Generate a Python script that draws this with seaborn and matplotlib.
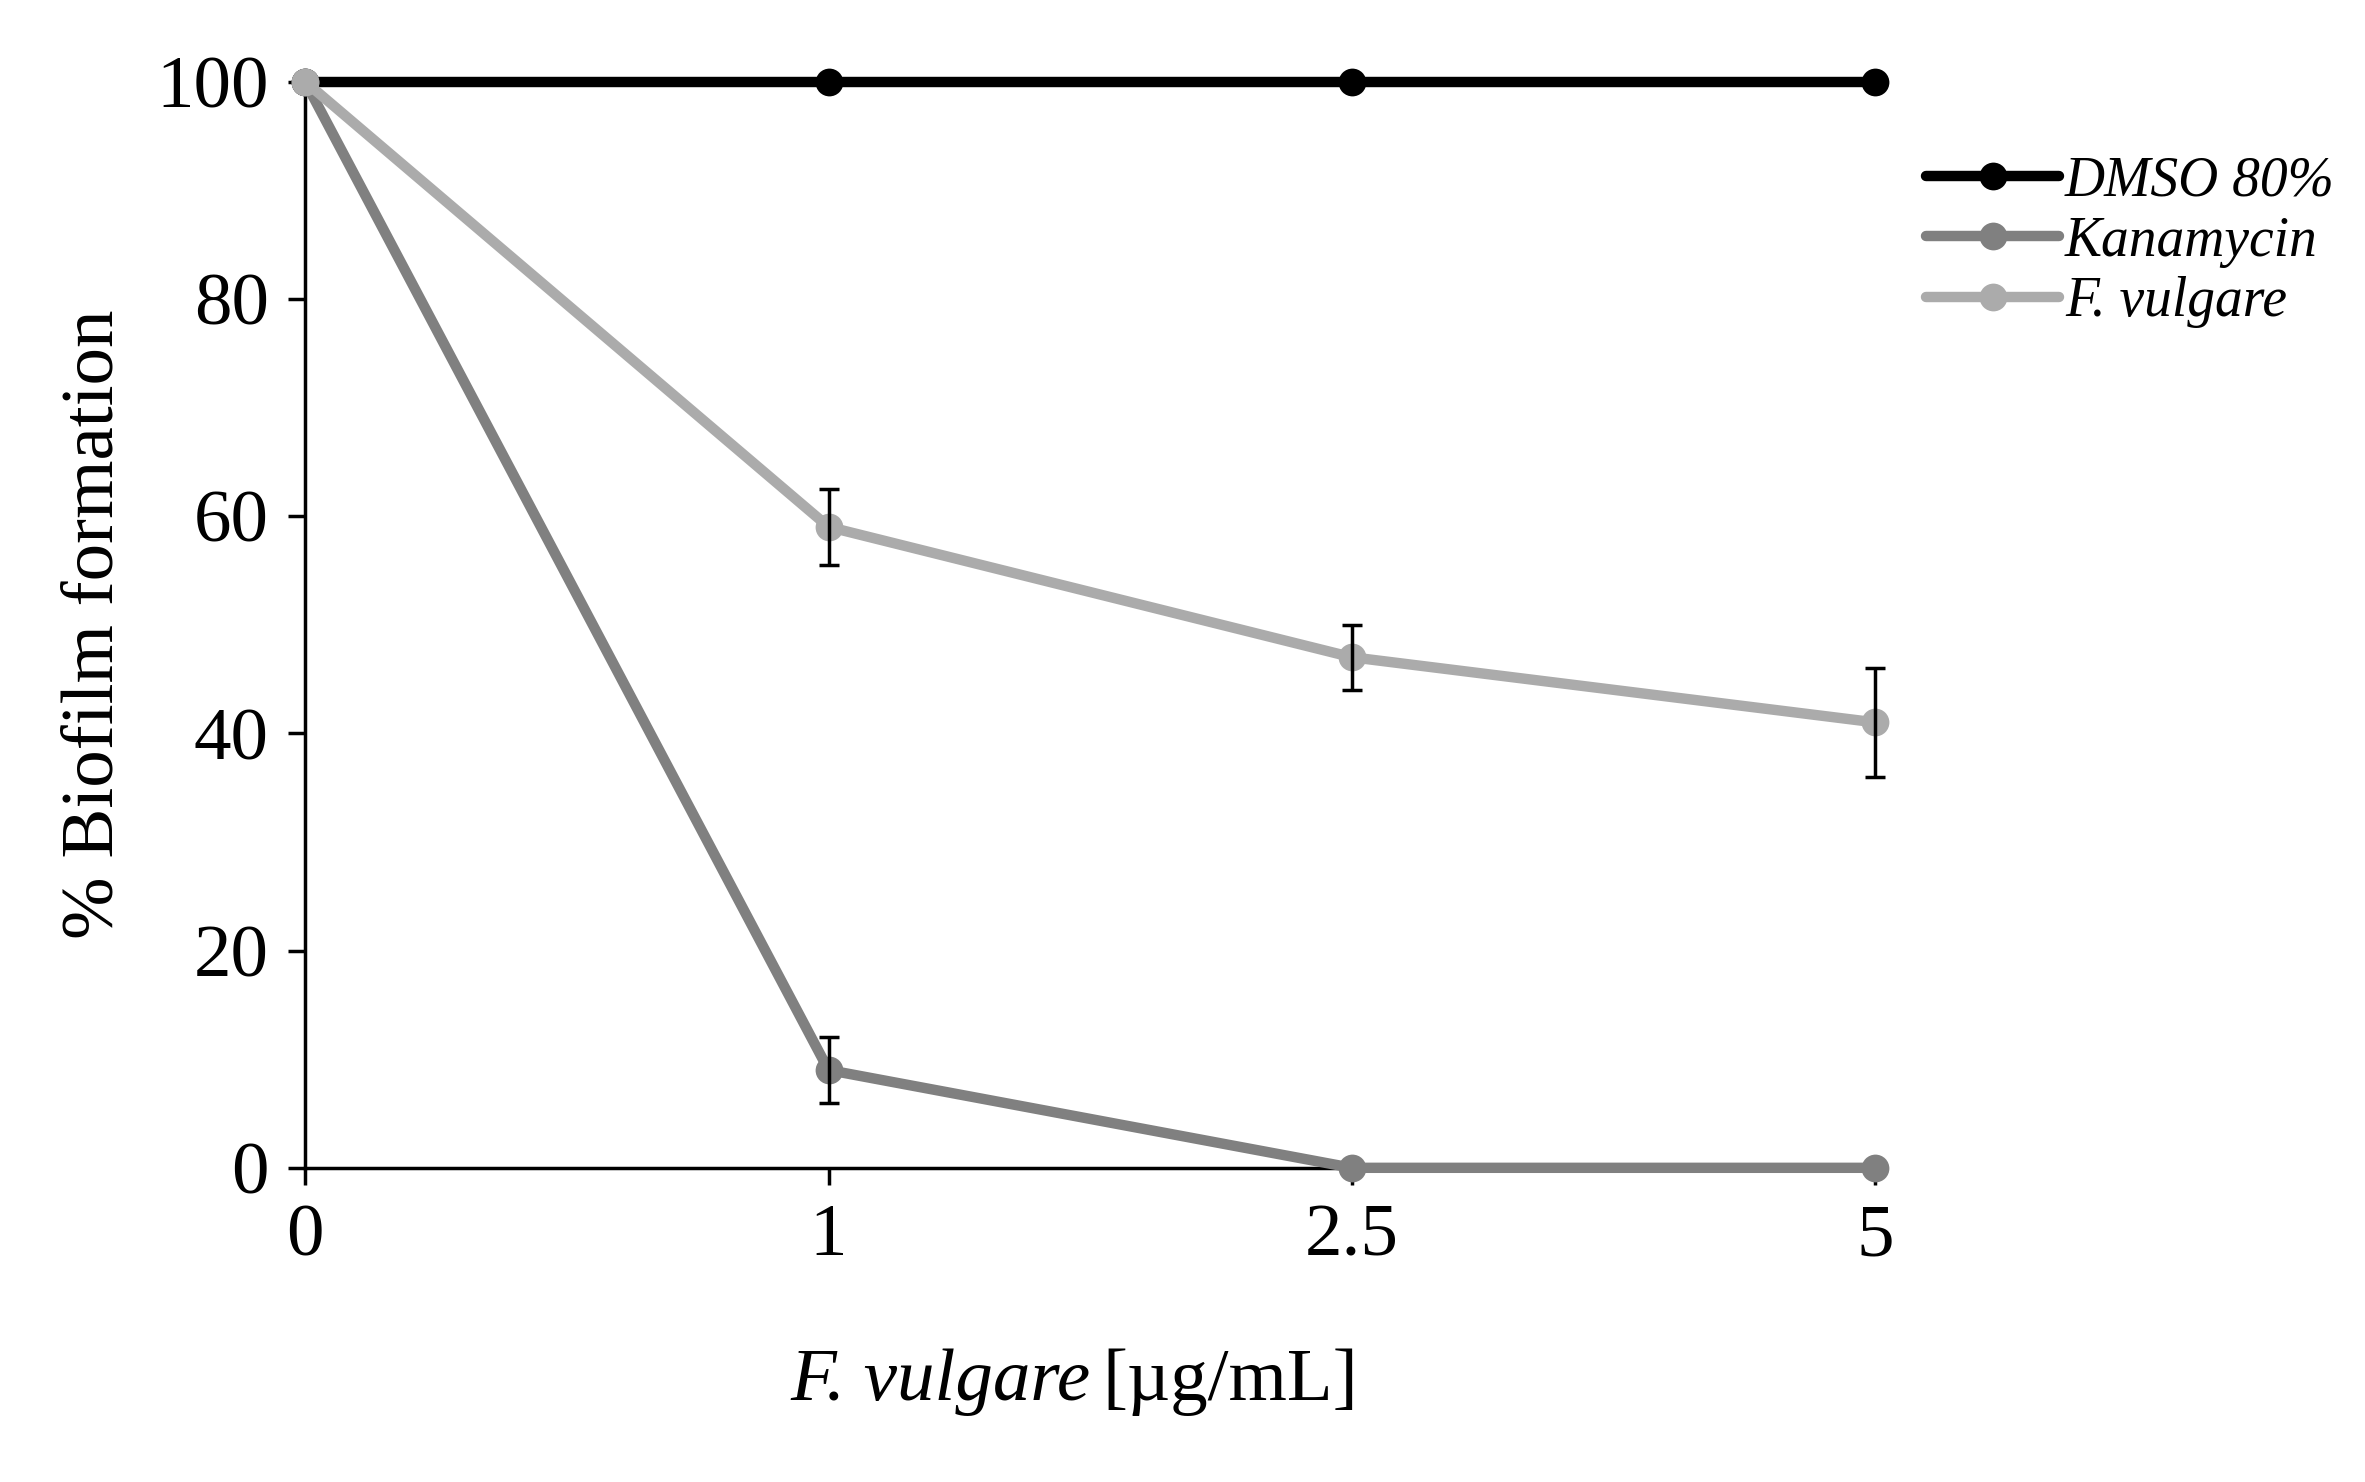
import matplotlib
matplotlib.use("Agg")
import matplotlib.pyplot as plt
import seaborn as sns
import pandas as pd
import numpy as np

sns.set_style("ticks")
plt.rcParams['font.family'] = ['Liberation Serif', 'DejaVu Serif']
plt.rcParams['text.color'] = 'black'
plt.rcParams['axes.labelcolor'] = 'black'
plt.rcParams['xtick.color'] = 'black'
plt.rcParams['ytick.color'] = 'black'
plt.rcParams['axes.edgecolor'] = 'black'

categories = ["0", "1", "2.5", "5"]
dmso = [100, 100, 100, 100]
kanamycin = [100, 9, 0, 0]
kanamycin_err = [0, 3, 0, 0]
fvulgare = [100, 59, 47, 41]
fvulgare_err = [0, 3.5, 3, 5]

series = [("DMSO 80%", dmso, None, "#000000"),
          ("Kanamycin", kanamycin, kanamycin_err, "#808080"),
          ("F. vulgare", fvulgare, fvulgare_err, "#ababab")]

fig = plt.figure(figsize=(23.65, 14.82), dpi=100)
ax = fig.add_axes([0.129, 0.212, 0.664, 0.733])
xpos = np.arange(len(categories))
for name, vals, err, col in series:
    df = pd.DataFrame({"x": xpos, "y": vals})
    sns.lineplot(data=df, x="x", y="y", ax=ax, color=col, lw=7.5, marker="o",
                 markersize=20, markeredgewidth=0, label=name, clip_on=False, zorder=3)
for name, vals, err, col in series:
    if err is not None:
        e = np.array(err, dtype=float)
        m = e > 0
        eb = ax.errorbar(xpos[m], np.array(vals)[m], yerr=e[m], fmt="none", ecolor="black",
                         elinewidth=2.5, capsize=7, capthick=2.5, zorder=4)
        for art in eb.lines[1] + eb.lines[2]:
            art.set_clip_on(False)
        for art in eb.lines[2]:
            art.set_clip_on(False)

ax.set_xlim(0, 3)
ax.set_ylim(0, 100)
ax.set_xticks(xpos)
ax.set_xticklabels(categories)
ax.set_yticks([0, 20, 40, 60, 80, 100])
ax.tick_params(labelsize=54, width=2.5, length=12, direction="out", pad=14)
for s in ["top", "right"]:
    ax.spines[s].set_visible(False)
for s in ["left", "bottom"]:
    ax.spines[s].set_linewidth(2.5)
ax.set_ylabel("% Biofilm formation", fontsize=54, labelpad=20)
ax.set_xlabel("")
fig.text(0.461, 0.055, "F. vulgare", fontsize=54, style="italic", ha="right")
fig.text(0.466, 0.055, "[µg/mL]", fontsize=54, ha="left")

ax.get_legend().remove()
h, l = ax.get_legend_handles_labels()
fig.legend(h, l, loc="upper left", bbox_to_anchor=(0.805, 0.91), frameon=False,
           prop={"size": 40, "style": "italic"}, handlelength=2.4,
           handletextpad=0.1, labelspacing=0.15, borderaxespad=0)
fig.savefig("out.png", dpi=100)
